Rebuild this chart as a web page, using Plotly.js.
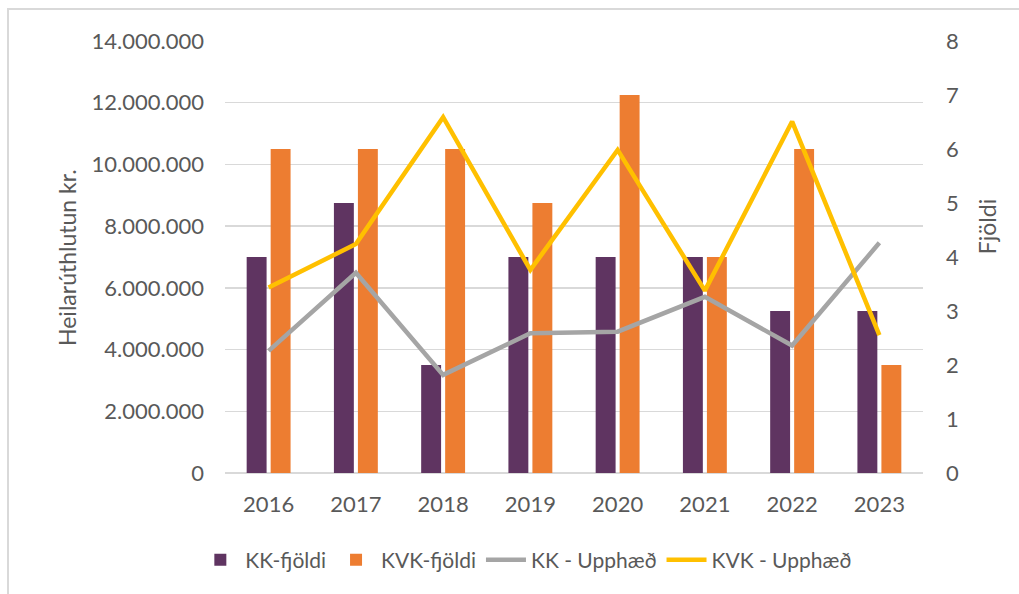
<!DOCTYPE html>
<html>
<head>
<meta charset="utf-8">
<script src="https://cdn.plot.ly/plotly-3.0.1.min.js"></script>
<style>html,body{margin:0;padding:0;background:#fff;}#chart{width:1019px;height:594px;}</style>
</head>
<body>
<div id="chart"></div>
<script>
const years = ['2016','2017','2018','2019','2020','2021','2022','2023'];
const kkFjoldi = [4, 5, 2, 4, 4, 4, 3, 3];
const kvkFjoldi = [6, 6, 6, 5, 7, 4, 6, 2];
const kkUpphaed = [3960000, 6490000, 3180000, 4530000, 4580000, 5710000, 4130000, 7460000];
const kvkUpphaed = [6010000, 7420000, 11530000, 6580000, 10470000, 5910000, 11390000, 4470000];

const FONT = 'Lato, "Open Sans", "Liberation Sans", sans-serif';
const GREY = '#595959';

const traces = [
  {type:'bar', name:'KK-fjöldi', x:years, y:kkFjoldi, yaxis:'y', marker:{color:'#5f3461'}, hoverinfo:'skip'},
  {type:'bar', name:'KVK-fjöldi', x:years, y:kvkFjoldi, yaxis:'y', marker:{color:'#ed7d31'}, hoverinfo:'skip'},
  {type:'scatter', mode:'lines', name:'KK - Upphæð', x:years, y:kkUpphaed, yaxis:'y2', line:{color:'#a5a5a5', width:4.5}, hoverinfo:'skip'},
  {type:'scatter', mode:'lines', name:'KVK - Upphæð', x:years, y:kvkUpphaed, yaxis:'y2', line:{color:'#ffc000', width:4.5}, hoverinfo:'skip'}
];

const layout = {
  width:1019, height:594,
  margin:{l:225, r:96, t:41, b:121, pad:0},
  paper_bgcolor:'#ffffff', plot_bgcolor:'#ffffff',
  font:{family:FONT, size:22, color:GREY},
  separators:',.',
  barmode:'group', bargap:0.45, bargroupgap:0.17,
  showlegend:true,
  legend:{orientation:'h', x:0.431, xanchor:'center', y:-0.2014, yanchor:'middle',
          font:{family:FONT, size:21, color:GREY}, itemwidth:40,
          traceorder:'normal'},
  xaxis:{type:'category', showgrid:false, zeroline:false, showline:false, ticks:'',
         ticklabelstandoff:16, tickfont:{family:FONT, size:22, color:GREY}, fixedrange:true},
  yaxis:{side:'right', range:[0,8], dtick:1, showgrid:false, zeroline:false, showline:false, ticks:'',
         ticklabelstandoff:22, tickfont:{family:FONT, size:22, color:GREY}, fixedrange:true},
  yaxis2:{overlaying:'y', side:'left', range:[0,14000000], dtick:2000000, tickformat:',d',
          showgrid:true, gridcolor:'#d9d9d9', gridwidth:1.5, zeroline:true, zerolinecolor:'#d9d9d9', zerolinewidth:1.5,
          showline:false, ticks:'', ticklabelstandoff:20, tickfont:{family:FONT, size:22, color:GREY}, fixedrange:true},
  annotations:[
    {text:'Heilarúthlutun kr.', xref:'paper', yref:'paper', x:-0.2264, y:0.5, xanchor:'center', yanchor:'middle',
     textangle:-90, showarrow:false, font:{family:FONT, size:23, color:GREY}},
    {text:'Fjöldi', xref:'paper', yref:'paper', x:1.0917, y:0.569, xanchor:'center', yanchor:'middle',
     textangle:-90, showarrow:false, font:{family:FONT, size:23, color:GREY}}
  ],
  shapes:[
    {type:'path', xref:'paper', yref:'paper',
     path:'M -0.3109,-0.3 L -0.3109,1.0741 L 1.2,1.0741',
     line:{color:'#d9d9d9', width:2}}
  ]
};

Plotly.newPlot('chart', traces, layout, {displayModeBar:false, staticPlot:true});
</script>
</body>
</html>
